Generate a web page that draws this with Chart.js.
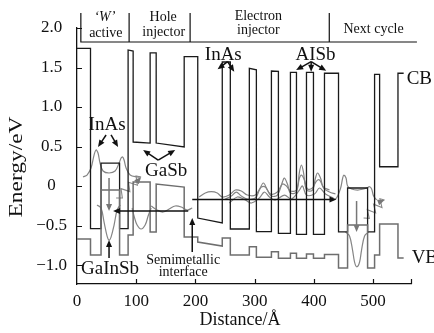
<!DOCTYPE html>
<html>
<head>
<meta charset="utf-8">
<script src="https://cdn.jsdelivr.net/npm/chart.js@4.4.1/dist/chart.umd.min.js"></script>
<style>
  html, body { margin: 0; padding: 0; background: #fff; }
</style>
</head>
<body>
<canvas id="band" width="434" height="333"></canvas>
<script>
// Band diagram of an interband cascade stage (energy vs distance)

// Conduction band edge (Å, eV)
const cbX = [0, 22.8, 22.8, 40.6, 40.6, 71.9, 71.9, 86.3, 86.3, 94.8, 94.8, 123.5, 123.5, 133.7, 133.7, 181, 181, 203.9, 203.9, 245.3, 245.3, 258.9, 258.9, 291, 291, 302.9, 302.9, 328.3, 328.3, 340.1, 340.1, 360.4, 360.4, 370.6, 370.6, 387.5, 387.5, 399.3, 399.3, 417.9, 417.9, 441.6, 441.6, 456.9, 456.9, 490.7, 490.7, 502.5, 502.5, 511, 511, 542, 542, 551.6];
const cbE = [1.743, 1.743, -0.54, -0.54, 0.29, 0.29, -0.54, -0.54, 1.722, 1.709, 0.557, 0.544, 1.684, 1.684, 0.544, 0.494, 1.637, 1.637, -0.405, -0.468, 1.570, 1.570, -0.544, -0.544, 1.49, 1.47, -0.578, -0.578, 1.456, 1.45, -0.599, -0.599, 1.439, 1.439, -0.611, -0.611, 1.439, 1.439, -0.611, -0.611, 1.427, 1.427, -0.58, -0.58, -0.025, -0.025, -0.58, -0.58, 1.414, 1.414, 0.244, 0.244, 1.427, 1.427];

// Valence band edge (Å, eV)
const vbX = [0, 22.8, 22.8, 40.6, 40.6, 71.9, 71.9, 86.3, 86.3, 94.8, 94.8, 123.5, 123.5, 133.7, 133.7, 181, 181, 203.9, 203.9, 245.3, 245.3, 258.9, 258.9, 291, 291, 302.9, 302.9, 328.3, 328.3, 340.1, 340.1, 360.4, 360.4, 370.6, 370.6, 387.5, 387.5, 399.3, 399.3, 417.9, 417.9, 441.6, 441.6, 456.9, 456.9, 490.7, 490.7, 502.5, 502.5, 511, 511, 542, 542, 551.6];
const vbE = [-0.671, -0.671, -0.874, -0.874, -0.051, -0.051, -0.874, -0.874, -0.62, -0.62, 0.051, 0.051, -0.582, -0.582, 0.025, -0.013, -0.646, -0.646, -0.709, -0.76, -0.658, -0.658, -0.874, -0.874, -0.768, -0.768, -0.903, -0.903, -0.832, -0.832, -0.915, -0.915, -0.852, -0.852, -0.915, -0.915, -0.861, -0.861, -0.915, -0.915, -0.867, -0.867, -1.038, -1.038, -0.494, -0.494, -1.038, -1.038, -0.874, -0.874, -0.481, -0.481, -0.911, -0.911];

// Wavefunctions (drawn offset on their energy levels)
const elecWX = [10.2, 16.9, 23.7, 28.8, 32.1, 35.5, 38.9, 44.0, 54.1, 64.3, 71.1, 74.5, 77.0, 79.5, 82.9, 89.7, 101.5, 106.6];
const elecWE = [0.114, 0.139, 0.228, 0.392, 0.456, 0.418, 0.291, 0.19, 0.165, 0.19, 0.291, 0.354, 0.367, 0.329, 0.228, 0.139, 0.114, 0.114];
const elecNX = [431.5, 438.2, 445.2, 448.6, 450.6, 454.3, 456.9, 463.6, 473.8, 484.0, 489.0, 494.1, 497.5, 500.8, 505.9];
const elecNE = [-0.177, -0.152, -0.025, 0.101, 0.139, 0.101, 0, -0.038, -0.051, -0.038, -0.025, -0.009, -0.038, -0.127, -0.177];
const holeWX = [33.8, 40.6, 45.7, 50.8, 54.1, 57.5, 62.6, 67.7, 72.8];
const holeWE = [-0.24, -0.278, -0.456, -0.633, -0.684, -0.646, -0.494, -0.304, -0.24];
const holeNX = [453.5, 460.2, 465.3, 468.7, 472.6, 477.2, 480.5, 485.6, 492.4];
const holeNE = [-0.582, -0.633, -0.81, -0.962, -1.022, -0.962, -0.81, -0.633, -0.582];
const gasb1X = [93.1, 96.4, 101.5, 108.3, 115.1, 120.1, 125.2];
const gasb1E = [-0.278, -0.38, -0.494, -0.544, -0.494, -0.38, -0.278];
const gasb2X = [125.2, 135.4, 145.5, 155.7, 165.8, 176.0, 186.1, 194.6];
const gasb2E = [-0.253, -0.304, -0.329, -0.291, -0.253, -0.266, -0.304, -0.278];
const inj1X = [250.4, 260.6, 269.0, 277.5, 287.6, 301.2, 307.9, 314.7, 321.5, 328.2, 338.4, 346.9, 350.2, 355.3, 360.4, 370.5, 375.6, 379.0, 382.4, 387.5, 397.6, 402.7, 406.1, 411.2, 416.2, 426.4, 436.5];
const inj1E = [-0.165, -0.127, -0.076, -0.127, -0.165, -0.152, -0.051, 0.038, -0.051, -0.127, -0.114, 0.051, 0.101, 0.025, -0.089, -0.076, 0.177, 0.266, 0.177, -0.051, -0.051, 0.101, 0.165, 0.101, -0.025, -0.076, -0.101];
const inj2X = [206.4, 216.6, 226.7, 236.9, 245.3, 257.2, 267.3, 277.5, 287.6, 301.2, 311.3, 318.1, 326.6, 338.4, 346.9, 353.6, 360.4, 370.5, 375.6, 379.0, 384.1, 389.2, 397.6, 404.4, 409.5, 416.2, 426.4];
const inj2E = [-0.139, -0.089, -0.072, -0.089, -0.139, -0.114, -0.051, -0.063, -0.114, -0.114, -0.013, -0.013, -0.101, -0.076, 0.025, 0, -0.063, -0.051, 0.101, 0.139, 0.076, -0.038, -0.025, 0.063, 0.076, -0.013, -0.051];
const inj3X = [257.2, 270.7, 284.3, 294.4, 307.9, 316.4, 324.9, 335.0, 350.2, 362.1, 375.6, 380.7, 387.5, 401.0, 409.5, 419.6, 433.1];
const inj3E = [-0.215, -0.139, -0.177, -0.215, -0.152, -0.076, -0.139, -0.177, -0.114, -0.165, -0.051, 0, -0.114, -0.101, -0.025, -0.101, -0.152];

// Photon emission squiggles
const photon1X = [66.0, 76.6, 74.3, 89.3, 87.0, 102.0, 99.7, 108.3];
const photon1E = [-0.152, -0.151, -0.033, -0.071, 0.047, 0.009, 0.127, 0.114];
const photon2X = [483.9, 493.6, 490.2, 504.3, 500.8, 515.0, 511.5, 519.4];
const photon2E = [-0.405, -0.409, -0.299, -0.341, -0.23, -0.272, -0.162, -0.177];

// Arrows: [x0, E0, x1, E1, colour]
const arrows = [
  [194.6, -0.171, 438.2, -0.171, '#111'],
  [187.8, -0.316, 60.9, -0.316, '#111'],
  [54.1, 0.101, 54.1, -0.316, '#777'],
  [472.1, -0.19, 472.1, -0.582, '#777'],
  [194.6, -0.836, 194.6, -0.405, '#111'],
  [54.1, -0.912, 54.1, -0.684, '#111'],
  [254.3, 1.574, 237.4, 1.477, '#111'],
  [254.3, 1.574, 265.6, 1.447, '#111'],
  [395.4, 1.574, 370.0, 1.468, '#111'],
  [395.4, 1.574, 395.4, 1.447, '#111'],
  [395.4, 1.574, 420.8, 1.46, '#111'],
  [49.1, 0.646, 35.5, 0.494, '#111'],
  [57.5, 0.646, 69.4, 0.494, '#111'],
  [137.1, 0.329, 111.7, 0.456, '#111'],
  [137.1, 0.329, 165.8, 0.456, '#111'],
  [102.0, 0.06, 108.3, 0.114, '#777'],
  [511.5, -0.2, 519.4, -0.177, '#777']
];

// Region header (above the plot)
const headerTop = 2.19;
const headerBase = 1.823;
const headerLeft = 6.5;
const headerRight = 574;
const headerCuts = [88, 191, 426];

const serif = "'Liberation Serif', 'Times New Roman', serif";

// text: [string, x, E, size, align, italic]
const notes = [
  ['\u2018W\u2019', 47, 2.139, 14, 'center', true],
  ['active', 48.7, 1.937, 14, 'center', false],
  ['Hole', 145.5, 2.133, 14, 'center', false],
  ['injector', 146.4, 1.949, 14, 'center', false],
  ['Electron', 306.3, 2.152, 14, 'center', false],
  ['injector', 306.3, 1.975, 14, 'center', false],
  ['Next cycle', 500.8, 1.981, 14, 'center', false],
  ['InAs', 247, 1.658, 19, 'center', false],
  ['AISb', 402.7, 1.658, 19, 'center', false],
  ['CB', 556.7, 1.354, 19, 'left', false],
  ['InAs', 50.8, 0.772, 19, 'center', false],
  ['GaSb', 150.6, 0.19, 19, 'center', false],
  ['GaInSb', 55.8, -1.047, 19, 'center', false],
  ['Semimetallic', 179.3, -0.937, 14, 'center', false],
  ['interface', 179.3, -1.089, 14, 'center', false],
  ['VB', 565.1, -0.911, 19, 'left', false]
];

function pts(xs, es) {
  return xs.map((v, i) => ({ x: v, y: es[i] }));
}

function line(xs, es, color, width, tension) {
  return {
    data: pts(xs, es),
    borderColor: color,
    borderWidth: width,
    pointRadius: 0,
    fill: false,
    tension: tension || 0
  };
}

const overlay = {
  id: 'overlay',
  afterDraw(chart) {
    const { ctx, scales: { x, y } } = chart;
    const px = v => x.getPixelForValue(v);
    const py = v => y.getPixelForValue(v);
    ctx.save();

    // inward tick marks
    ctx.strokeStyle = '#111';
    ctx.lineWidth = 1.2;
    ctx.beginPath();
    x.ticks.concat([{ value: x.max }]).forEach(t => {
      if (t.value === 0) return;
      const xx = Math.round(px(t.value)) + 0.5;
      ctx.moveTo(xx, chart.chartArea.bottom);
      ctx.lineTo(xx, chart.chartArea.bottom - 5);
    });
    y.ticks.forEach(t => {
      const yy = Math.round(py(t.value)) + 0.5;
      ctx.moveTo(chart.chartArea.left, yy);
      ctx.lineTo(chart.chartArea.left + 5, yy);
    });
    ctx.stroke();

    // header frame
    ctx.beginPath();
    ctx.moveTo(px(headerLeft), py(headerTop));
    ctx.lineTo(px(headerLeft), py(headerBase));
    ctx.lineTo(px(headerRight), py(headerBase));
    headerCuts.forEach(c => {
      ctx.moveTo(px(c), py(headerTop));
      ctx.lineTo(px(c), py(headerBase));
    });
    ctx.stroke();

    // arrows
    arrows.forEach(([x0, e0, x1, e1, col]) => {
      const ax = px(x0), ay = py(e0), bx = px(x1), by = py(e1);
      const ang = Math.atan2(by - ay, bx - ax);
      const hl = 7, hw = 3;
      ctx.strokeStyle = col;
      ctx.fillStyle = col;
      ctx.lineWidth = 1.5;
      ctx.beginPath();
      ctx.moveTo(ax, ay);
      ctx.lineTo(bx - hl * 0.8 * Math.cos(ang), by - hl * 0.8 * Math.sin(ang));
      ctx.stroke();
      ctx.beginPath();
      ctx.moveTo(bx, by);
      ctx.lineTo(bx - hl * Math.cos(ang) + hw * Math.sin(ang), by - hl * Math.sin(ang) - hw * Math.cos(ang));
      ctx.lineTo(bx - hl * Math.cos(ang) - hw * Math.sin(ang), by - hl * Math.sin(ang) + hw * Math.cos(ang));
      ctx.closePath();
      ctx.fill();
    });

    // text notes
    ctx.fillStyle = '#111';
    ctx.textBaseline = 'middle';
    notes.forEach(([s, xv, ev, size, align, ital]) => {
      ctx.font = (ital ? 'italic ' : '') + size + 'px ' + serif;
      ctx.textAlign = align;
      ctx.fillText(s, px(xv), py(ev));
    });

    // axis titles
    ctx.font = '18px ' + serif;
    ctx.textAlign = 'center';
    ctx.fillText('Distance/\u00c5', 240, 320);
    ctx.translate(17.5, 167);
    ctx.rotate(-Math.PI / 2);
    ctx.scale(1.3, 1);
    ctx.fillText('Energy/eV', 0, 0);
    ctx.restore();
  }
};

const grey = '#6e6e6e';
const wfGrey = '#858585';

new Chart(document.getElementById('band'), {
  type: 'line',
  data: {
    datasets: [
      line(vbX, vbE, grey, 1.5),
      line(cbX, cbE, '#1a1a1a', 1.3),
      line(elecWX, elecWE, wfGrey, 1.2, 0.35),
      line(elecNX, elecNE, wfGrey, 1.2, 0.35),
      line(holeWX, holeWE, wfGrey, 1.2, 0.35),
      line(holeNX, holeNE, wfGrey, 1.2, 0.35),
      line(gasb1X, gasb1E, wfGrey, 1.2, 0.35),
      line(gasb2X, gasb2E, wfGrey, 1.2, 0.35),
      line(inj1X, inj1E, wfGrey, 1.2, 0.35),
      line(inj2X, inj2E, wfGrey, 1.2, 0.35),
      line(inj3X, inj3E, wfGrey, 1.2, 0.35),
      line(photon1X, photon1E, '#888', 1.1),
      line(photon2X, photon2E, '#888', 1.1)
    ]
  },
  options: {
    responsive: false,
    animation: false,
    events: [],
    layout: { padding: { top: 28, right: 23, left: 0, bottom: 0 } },
    plugins: { legend: { display: false }, tooltip: { enabled: false } },
    scales: {
      x: {
        type: 'linear',
        min: 0,
        max: 564,
        afterFit: s => { s.height = 49; },
        grid: { display: false, drawTicks: false },
        border: { display: true, color: '#111', width: 1.3 },
        ticks: {
          stepSize: 100,
          includeBounds: false,
          padding: 7,
          color: '#111',
          font: { family: serif, size: 17 }
        }
      },
      y: {
        type: 'linear',
        min: -1.24,
        max: 2.0,
        afterFit: s => { s.width = 77; },
        grid: { display: false, drawTicks: false },
        border: { display: true, color: '#111', width: 1.3 },
        ticks: {
          stepSize: 0.5,
          includeBounds: false,
          padding: 10,
          crossAlign: 'center',
          color: '#111',
          font: { family: serif, size: 17 },
          callback: v => (Math.abs(v) < 1e-9 ? '0' : (v < 0 ? '\u2212' : '') + Math.abs(v).toFixed(1))
        }
      }
    }
  },
  plugins: [overlay]
});
</script>
</body>
</html>
